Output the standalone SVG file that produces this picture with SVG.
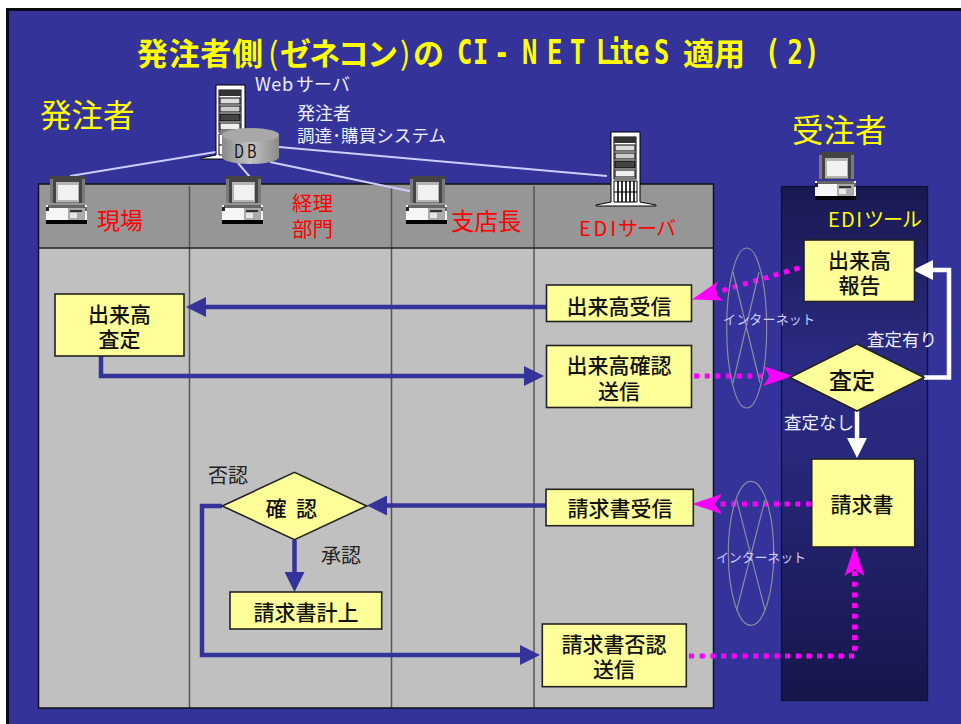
<svg xmlns="http://www.w3.org/2000/svg" xmlns:xlink="http://www.w3.org/1999/xlink" width="961" height="724" viewBox="0 0 961 724">
<style>
text{font-family:"Noto Sans CJK JP","Noto Sans",sans-serif}
.box{fill:#ffff99;stroke:#222;stroke-width:1.6}
.bt{font-size:21px;font-weight:500;fill:#111;text-anchor:middle}
.red{fill:#ff0000}
.yel{fill:#ffff00}
.wh{fill:#eeeeff}
.mono{font-family:"DejaVu Sans Mono",monospace;font-weight:700;fill:#ffff00;font-size:34px}
.lk{fill:none;stroke:#ccccff;stroke-width:2}
.blue{fill:none;stroke:#333399;stroke-width:4.500;marker-end:url(#ab)}
.white{fill:none;stroke:#fff;stroke-width:4.500;marker-end:url(#aw)}
.mag{fill:none;stroke:#ff00ff;stroke-width:5;stroke-dasharray:5 5.670;marker-end:url(#am)}
.net{fill:none;stroke:#8c8ca0;stroke-width:1.200}
.nt{font-size:13px;fill:#ccccff}
.div{stroke:#555;stroke-width:1.500}
</style>
<defs>
<linearGradient id="pg" x1="0" y1="0" x2="0" y2="1">
<stop offset="0" stop-color="#191950"/><stop offset="0.35" stop-color="#2b2b84"/><stop offset="0.55" stop-color="#27277a"/><stop offset="1" stop-color="#16164a"/>
</linearGradient>
<linearGradient id="dbg" x1="0" y1="0" x2="1" y2="0">
<stop offset="0" stop-color="#8a8a8a"/><stop offset="0.5" stop-color="#c4c4c4"/><stop offset="1" stop-color="#8a8a8a"/>
</linearGradient>
<marker id="ab" markerUnits="userSpaceOnUse" markerWidth="20" markerHeight="20" viewBox="0 0 20 20" refX="2" refY="10" orient="auto"><path d="M0,0L20,10L0,20Z" fill="#333399"/></marker>
<marker id="aw" markerUnits="userSpaceOnUse" markerWidth="20" markerHeight="20" viewBox="0 0 20 20" refX="2" refY="10" orient="auto"><path d="M0,0L20,10L0,20Z" fill="#fff"/></marker>
<marker id="am" markerUnits="userSpaceOnUse" markerWidth="30" markerHeight="20" viewBox="0 0 30 20" refX="7" refY="10" orient="auto"><path d="M0,0L30,10L0,20L7,10Z" fill="#ff00ff"/></marker>
<g id="pc">
<rect x="4" y="0" width="35" height="27" fill="#7a7a7a"/>
<path d="M4,0H39V3H36V27H33V6H10V27H7V3H4Z" fill="#444"/>
<rect x="10" y="6" width="23" height="20" fill="#b4b4b4"/>
<rect x="12" y="9" width="20" height="15" fill="#f2f2f2"/>
<rect x="0" y="29" width="41" height="19" fill="#f6f6f6"/>
<rect x="2" y="29" width="37" height="3" fill="#666"/>
<rect x="0" y="31" width="3" height="4" fill="#222"/>
<rect x="38" y="31" width="3" height="4" fill="#666"/>
<rect x="22" y="32" width="17" height="12" fill="#aaa"/>
<rect x="24" y="34" width="12" height="2" fill="#333"/>
<rect x="24" y="37" width="7" height="5" fill="#e8e8e8"/>
<rect x="0" y="44" width="41" height="4" fill="#000"/>
</g>
<g id="server">
<path d="M-15,73L0,70V0H29V70L45,73V74H-15Z" fill="#fff" stroke="#000" stroke-width="1"/>
<rect x="3" y="5" width="22" height="42" fill="#fff" stroke="#000"/>
<rect x="3" y="5" width="22" height="6" fill="#333"/>
<rect x="4" y="13" width="20" height="6" fill="#ddd" stroke="#000"/>
<rect x="4" y="21" width="20" height="6" fill="#ccc" stroke="#000"/>
<rect x="4" y="29" width="20" height="7" fill="#444" stroke="#000"/>
<rect x="4" y="38" width="20" height="7" fill="#eee" stroke="#000"/>
<path d="M3,49H26V70H3Z" fill="#fff" stroke="#000"/>
<path d="M7,49V70M11,49V70M15,49V70M19,49V70M23,49V70" stroke="#000" stroke-width="1.600"/>
<path d="M3,60H26" stroke="#000"/>
</g>
</defs>

<rect width="961" height="724" fill="#fff"/>
<rect x="6" y="8" width="955" height="716" fill="#0a0a14"/>
<rect x="9" y="11" width="952" height="713" fill="#333399"/>

<g id="title">
<text y="65" font-size="31" font-weight="700" class="yel"><tspan x="137" textLength="126">発注者側</tspan><tspan x="268" font-weight="400">(</tspan><tspan x="280" textLength="118">ゼネコン</tspan><tspan x="400" font-weight="400">)</tspan><tspan x="413">の</tspan></text>
<text class="mono" transform="translate(0,64) scale(.75,1)" x="609.300 630.700 658.700 696 729.300 760 794.700 810.700 825.300 845.300 872" y="0">CI-NETLiteS</text>
<text y="65" font-size="31" font-weight="700" class="yel" x="683">適用</text>
<text class="mono" transform="translate(0,64) scale(.75,1)" x="1020 1050 1072" y="0">(2)</text>
</g>

<g id="swimlanes">
<rect x="38.500" y="184" width="675" height="64" fill="#969696"/>
<rect x="38.500" y="248" width="675" height="460" fill="#c0c0c0"/>
<path class="div" d="M189.500,186V708M391.500,186V708M534,186V708"/>
<path d="M38.500,248H713.500" stroke="#222" stroke-width="1.500"/>
<rect x="38.500" y="184" width="675" height="524" fill="none" stroke="#111" stroke-width="1.500"/>
</g>
<g id="orderee-panel"><rect x="781.500" y="186.500" width="146" height="514" fill="url(#pg)" stroke="#101040" stroke-width="1.300"/></g>

<g id="orderer-label"><text x="40" y="127" font-size="31.500" class="yel">発注者</text></g>
<g id="orderee-label"><text x="792" y="142" font-size="31.500" class="yel">受注者</text></g>

<g id="connectors">
<path class="lk" d="M70,176L222,151M238,163L256,184M270,162L414,192M279,147L607,176"/>
<path class="blue" d="M546,307H204"/>
<path class="blue" d="M101,356V376H526"/>
<path class="blue" d="M546,505.500H385"/>
<path class="blue" d="M222,506H202V655H522"/>
<path class="blue" d="M294.500,540V574"/>
<path class="white" d="M924,377.500H949V270H931"/>
<path class="white" d="M857,411V440"/>
<path class="mag" d="M799,268L714,293"/>
<path class="mag" d="M694,376H770"/>
<path class="mag" d="M811,504H715"/>
<path class="mag" d="M689,656H854.500V569"/>
</g>

<g id="web-server"><use xlink:href="#server" href="#server" x="216" y="85"/><text y="91" font-size="18" class="wh"><tspan x="255" textLength="38">Web</tspan><tspan x="296" textLength="54">サーバ</tspan></text></g>
<g id="db"><path d="M222,135V157C222,161 235,164 250.500,164C266,164 279,161 279,157V135Z" fill="url(#dbg)"/><ellipse cx="250.500" cy="135" rx="28.500" ry="7" fill="#a8a8a8"/><text transform="translate(0,158) scale(.8,1)" x="292.500 308.700" y="0" font-size="18" fill="#111">DB</text></g>
<g id="procurement"><text x="297" y="120" font-size="18" class="wh">発注者</text><text x="297" y="142" font-size="17.500" class="wh" textLength="149">調達･購買システム</text></g>

<g id="genba"><use xlink:href="#pc" href="#pc" x="46" y="176"/><text x="97" y="229" font-size="23" class="red">現場</text></g>
<g id="keiri"><use xlink:href="#pc" href="#pc" x="222" y="176"/><text x="292" y="211" font-size="20.500" class="red">経理</text><text x="292" y="237" font-size="20.500" class="red">部門</text></g>
<g id="shiten"><use xlink:href="#pc" href="#pc" x="406" y="176"/><text x="451" y="230" font-size="23.500" class="red">支店長</text></g>
<g id="edi-server"><use xlink:href="#server" href="#server" x="611" y="132"/><text y="236" font-size="20" class="red"><tspan x="579" textLength="37">EDI</tspan><tspan x="618" textLength="58">サーバ</tspan></text></g>
<g id="edi-tool"><use xlink:href="#pc" href="#pc" x="815" y="152"/><text y="227" font-size="20" class="yel"><tspan x="828" textLength="34">EDI</tspan><tspan x="864" textLength="58">ツール</tspan></text></g>

<g id="n1"><rect class="box" x="55" y="294" width="129" height="62"/><text class="bt" x="119.500" y="322">出来高</text><text class="bt" x="119.500" y="347">査定</text></g>
<g id="n2"><rect class="box" x="546.500" y="285" width="145" height="36.500"/><text class="bt" x="619" y="314">出来高受信</text></g>
<g id="n3"><rect class="box" x="546.500" y="345.500" width="145" height="62"/><text class="bt" x="619" y="373">出来高確認</text><text class="bt" x="619" y="399">送信</text></g>
<g id="n4"><rect class="box" x="804" y="240" width="110.500" height="61.500"/><text class="bt" x="859.500" y="268">出来高</text><text class="bt" x="859.500" y="293">報告</text></g>
<g id="n5"><path class="box" d="M790,377.500L857,344L924,377.500L857,411Z" stroke-width="1"/><text x="852" y="389" font-size="23" font-weight="500" fill="#111" text-anchor="middle">査定</text></g>
<g id="n6"><rect class="box" x="811.700" y="459" width="103" height="88"/><text class="bt" x="862" y="512">請求書</text></g>
<g id="n7"><rect class="box" x="546" y="489.300" width="147.300" height="36.400"/><text class="bt" x="620" y="516">請求書受信</text></g>
<g id="n8"><rect class="box" x="542.300" y="624" width="144" height="62.700"/><text class="bt" x="614" y="652">請求書否認</text><text class="bt" x="614" y="677">送信</text></g>
<g id="n9"><path class="box" d="M222.300,506L294.500,472.300L366.700,506L294.500,539.700Z" stroke-width="1"/><text class="bt" y="516" x="276 306.500">確認</text></g>
<g id="n10"><rect class="box" x="230" y="592" width="151.700" height="37"/><text class="bt" x="306" y="620">請求書計上</text></g>

<g id="flow-labels">
<text x="208" y="483" font-size="20" fill="#222">否認</text>
<text x="321" y="563" font-size="20" fill="#222">承認</text>
<text x="867" y="346" font-size="17.500" class="wh">査定有り</text>
<text x="784" y="429" font-size="17.500" class="wh">査定なし</text>
</g>

<g id="internet-1"><ellipse class="net" cx="746.700" cy="328" rx="20" ry="80"/><path class="net" d="M733,272L760,383M759,272L733,383"/><text class="nt" x="723" y="324" textLength="92">インターネット</text></g>
<g id="internet-2"><ellipse class="net" cx="751" cy="553.300" rx="22.700" ry="72"/><path class="net" d="M736.700,500L765,610M765,500L736.700,610"/><text class="nt" x="716" y="562" textLength="90">インターネット</text></g>
</svg>
